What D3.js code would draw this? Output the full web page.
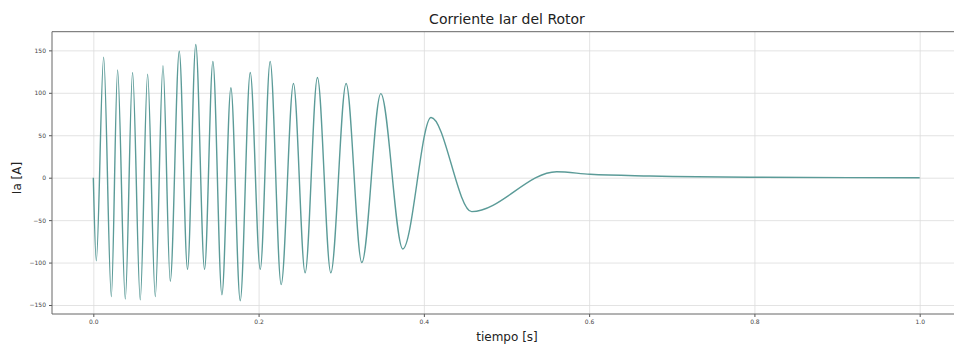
<!DOCTYPE html>
<html>
<head>
<meta charset="utf-8">
<script src="https://cdn.jsdelivr.net/npm/d3@7"></script>
<style>
  body { margin: 0; background: #fff; }
  text { font-family: "DejaVu Sans", sans-serif; }
  .grid line { stroke: #dcdcdc; stroke-width: 0.8; }
  .grid path { display: none; }
  .axis path { display: none; }
  .axis line { stroke: #555; }
  .axis text { fill: #444; font-size: 6px; }
</style>
</head>
<body>
<div class="chart"></div>
<script>

//////////
// DATA //
//////////

// time [s] of start, each peak / trough and the settling tail
var timeS = [0.0, 0.0036, 0.0125, 0.0218, 0.0294, 0.0387, 0.0475, 0.0568, 0.0657,
    0.075, 0.0843, 0.0931, 0.104, 0.114, 0.124, 0.1346, 0.1447, 0.1556, 0.1665,
    0.1778, 0.1899, 0.202, 0.214, 0.2273, 0.2422, 0.2563, 0.2712, 0.2874, 0.3059,
    0.3249, 0.3479, 0.3745, 0.4087, 0.4579, 0.5607, 0.601, 0.6735, 0.794, 1.0];

// rotor current Ia [A] at those times
var currentA = [0, -98, 142, -140, 127, -143, 124, -144, 122,
    -140, 132, -122, 149, -108, 157, -108, 137, -138, 106,
    -145, 124, -108, 137, -126, 111, -112, 118, -112, 111,
    -100, 99, -84, 71, -40, 7, 4, 2, 0.5, 0];

var xTicks = [0.0, 0.2, 0.4, 0.6, 0.8, 1.0];
var yTicks = [150, 100, 50, 0, -50, -100, -150];

//////////////////
// CREATING SVG //
//////////////////

var w = 954,
    h = 346;

var svg = d3.select('.chart')
    .append('svg')
    .attr('width', w)
    .attr('height', h);

////////////
// SCALES //
////////////

var xScale = d3.scaleLinear()
    .domain([-0.05, 1.05])
    .range([52, 961]);

var yScale = d3.scaleLinear()
    .domain([-160.6, 172])
    .range([314, 31.7]);

//////////
// GRID //
//////////

svg.append('g')
    .attr('class', 'grid')
    .attr('transform', 'translate(0,314)')
    .call(d3.axisBottom(xScale).tickValues(xTicks).tickSize(-282.3).tickFormat(''));

svg.append('g')
    .attr('class', 'grid')
    .attr('transform', 'translate(52,0)')
    .call(d3.axisLeft(yScale).tickValues(yTicks).tickSize(-909).tickFormat(''));

//////////
// AXIS //
//////////

svg.append('g')
    .attr('class', 'axis')
    .attr('transform', 'translate(0,314)')
    .call(d3.axisBottom(xScale).tickValues(xTicks).tickSize(3).tickPadding(3)
        .tickFormat(d3.format('.1f')));

svg.append('g')
    .attr('class', 'axis')
    .attr('transform', 'translate(52,0)')
    .call(d3.axisLeft(yScale).tickValues(yTicks).tickSize(3).tickPadding(3)
        .tickFormat(function(d) { return d < 0 ? '\u2212' + Math.abs(d) : d; }));

// spines
svg.append('line')
    .attr('x1', 52).attr('x2', 961)
    .attr('y1', 31.7).attr('y2', 31.7)
    .attr('stroke', '#666').attr('stroke-width', 1);

svg.append('line')
    .attr('x1', 52).attr('x2', 961)
    .attr('y1', 314).attr('y2', 314)
    .attr('stroke', '#666').attr('stroke-width', 1);

svg.append('line')
    .attr('x1', 52).attr('x2', 52)
    .attr('y1', 31.7).attr('y2', 314)
    .attr('stroke', '#666').attr('stroke-width', 1);

//////////
// LINE //
//////////

var points = timeS.map(function(t, i) { return [t, currentA[i]]; });

var line = d3.line()
    .x(function(d) { return xScale(d[0]); })
    .y(function(d) { return yScale(d[1]); })
    .curve(d3.curveMonotoneX);

svg.append('path')
    .datum(points)
    .attr('d', line)
    .attr('fill', 'none')
    .attr('stroke', '#5b9b98')
    .attr('stroke-width', 1.4);

////////////
// LABELS //
////////////

svg.append('text')
    .attr('x', 507)
    .attr('y', 24)
    .attr('text-anchor', 'middle')
    .attr('font-size', 14)
    .attr('fill', '#222')
    .text('Corriente Iar del Rotor');

svg.append('text')
    .attr('x', 507)
    .attr('y', 341)
    .attr('text-anchor', 'middle')
    .attr('font-size', 12)
    .attr('fill', '#222')
    .text('tiempo [s]');

svg.append('text')
    .attr('transform', 'translate(21,178) rotate(-90)')
    .attr('text-anchor', 'middle')
    .attr('font-size', 12)
    .attr('fill', '#222')
    .text('Ia [A]');

</script>
</body>
</html>
